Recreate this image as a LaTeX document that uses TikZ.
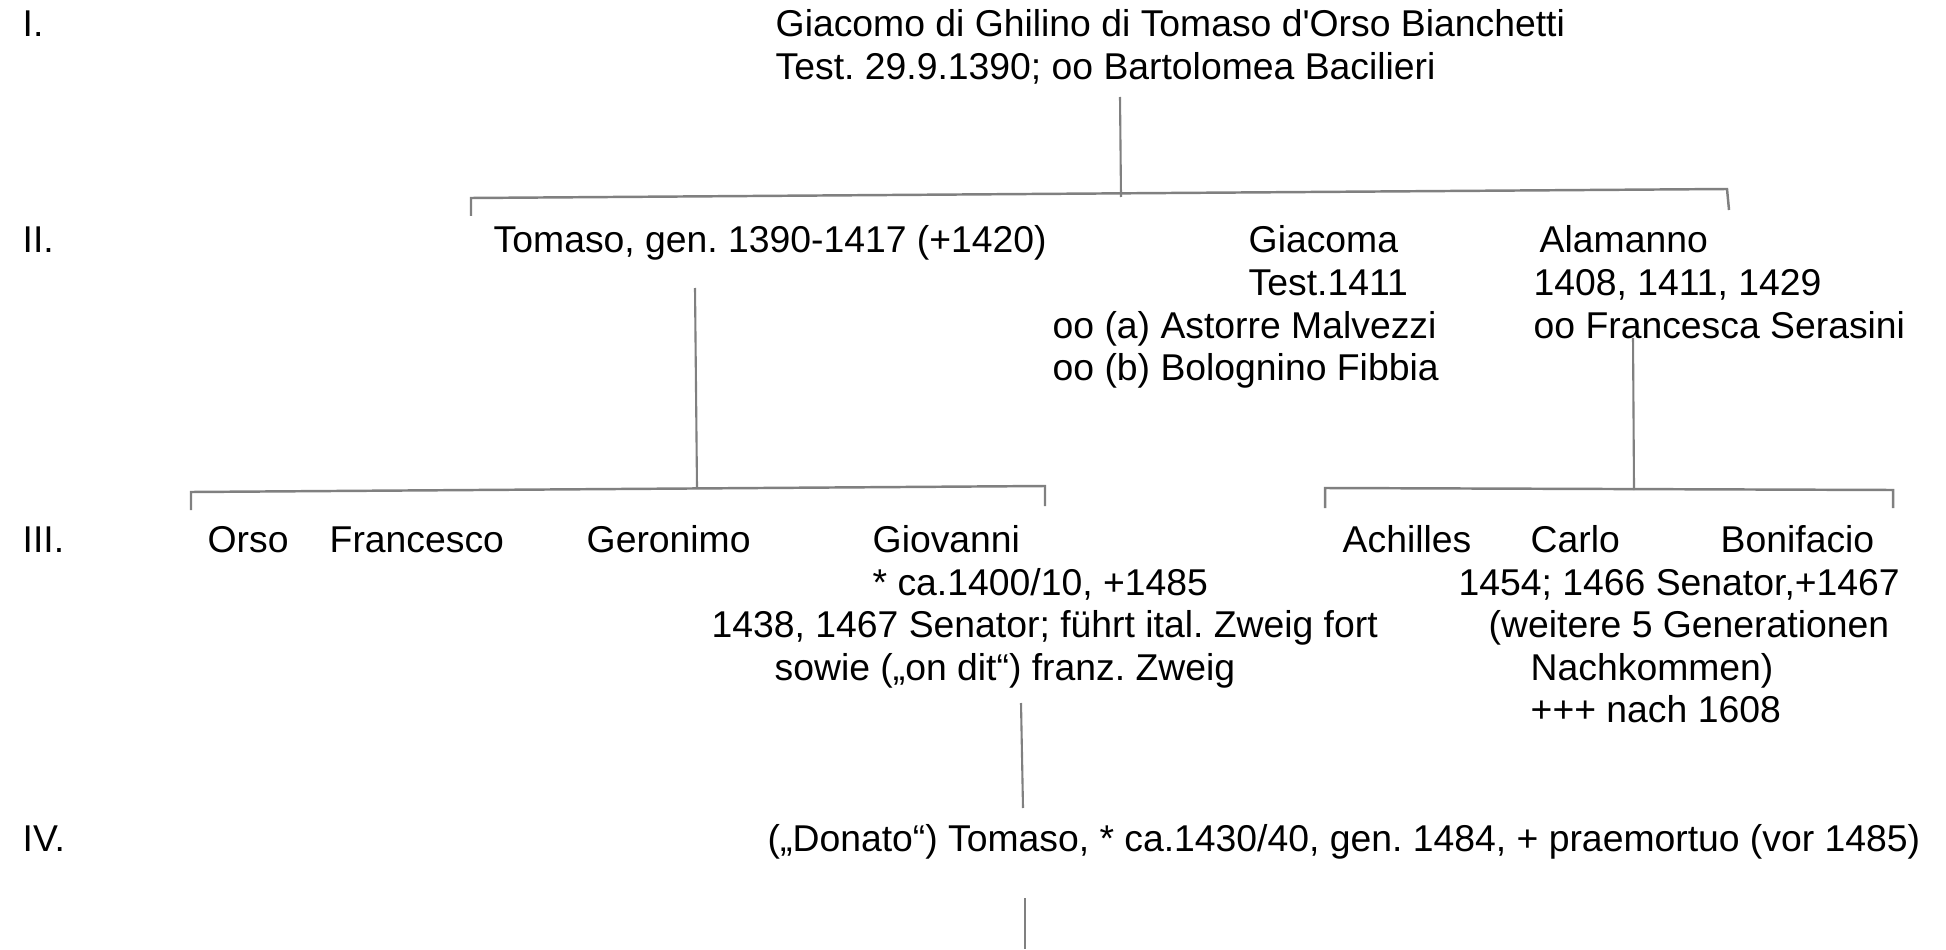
\documentclass[tikz,border=0pt]{standalone}
\usepackage{fontspec}
\usepackage{tikz}
\usetikzlibrary{positioning}
\newfontfamily\treefont{Liberation Sans}
\definecolor{stemline}{RGB}{128,128,128}
\frenchspacing

\begin{document}
\begin{tikzpicture}[
    every node/.style={font=\treefont\fontsize{10.62}{12}\selectfont, anchor=base west, inner sep=0pt},
    stem/.style={stemline, line width=0.6pt},
    bracket/.style={stemline, line width=0.7pt, line join=miter},
]
\useasboundingbox (0,0) rectangle (19.46,9.49);

% Generation labels
\node (genI)   at (0.22, 9.12) {I.};
\node (genII)  at (0.22, 6.97) {II.};
\node (genIII) at (0.22, 3.97) {III.};
\node (genIV)  at (0.22, 0.98) {IV.};

% Generation I
\node (giacomo)  at (7.75, 9.12) {Giacomo di Ghilino di Tomaso d'Orso Bianchetti};
\node (giacomoB) at (7.75, 8.69) {Test. 29.9.1390; oo Bartolomea Bacilieri};

% Generation II
\node (tomaso)    at (4.93, 6.97) {Tomaso, gen. 1390-1417 (+1420)};
\node (giacoma)   at (12.48, 6.97) {Giacoma};
\node (giacomaB)  at (12.48, 6.54) {Test.1411};
\node (giacomaC)  at (10.52, 6.11) {oo (a) Astorre Malvezzi};
\node (giacomaD)  at (10.52, 5.69) {oo (b) Bolognino Fibbia};
\node (alamanno)  at (15.39, 6.97) {Alamanno};
\node (alamannoB) at (15.33, 6.54) {1408, 1411, 1429};
\node (alamannoC) at (15.33, 6.11) {oo Francesca Serasini};

% Generation III
\node (orso)      at (2.07, 3.97) {Orso};
\node (francesco) at (3.29, 3.97) {Francesco};
\node (geronimo)  at (5.86, 3.97) {Geronimo};
\node (giovanni)  at (8.72, 3.97) {Giovanni};
\node (giovanniB) at (8.72, 3.54) {* ca.1400/10, +1485};
\node (giovanniC) at (7.11, 3.12) {1438, 1467 Senator; führt ital. Zweig fort};
\node (giovanniD) at (7.74, 2.69) {sowie („on dit“) franz. Zweig};
\node (achilles)  at (13.42, 3.97) {Achilles};
\node (carlo)     at (15.30, 3.97) {Carlo};
\node (bonifacio) at (17.20, 3.97) {Bonifacio};
\node (carloB)    at (14.58, 3.54) {1454; 1466 Senator,+1467};
\node (carloC)    at (14.88, 3.12) {(weitere 5 Generationen};
\node (carloD)    at (15.30, 2.69) {Nachkommen)};
\node (carloE)    at (15.30, 2.27) {+++ nach 1608};

% Generation IV
\node (donato) at (7.67, 0.98) {(„Donato“) Tomaso, * ca.1430/40, gen. 1484, + praemortuo (vor 1485)};

% Line end points
\coordinate (giacomoTop) at (11.20, 8.52);
\coordinate (giacomoBot) at (11.21, 7.52);
\coordinate (brIa) at (4.71, 7.33);
\coordinate (brIb) at (4.71, 7.51);
\coordinate (brIc) at (17.27, 7.60);
\coordinate (brId) at (17.29, 7.39);

\coordinate (tomasoTop) at (6.95, 6.61);
\coordinate (tomasoBot) at (6.97, 4.61);
\coordinate (brLa) at (1.91, 4.39);
\coordinate (brLb) at (1.91, 4.57);
\coordinate (brLc) at (10.45, 4.63);
\coordinate (brLd) at (10.45, 4.43);

\coordinate (alamannoTop) at (16.33, 6.11);
\coordinate (alamannoBot) at (16.34, 4.59);
\coordinate (brRa) at (13.25, 4.41);
\coordinate (brRb) at (13.25, 4.61);
\coordinate (brRc) at (18.93, 4.59);
\coordinate (brRd) at (18.93, 4.41);

\coordinate (giovanniTop) at (10.21, 2.46);
\coordinate (giovanniBot) at (10.23, 1.41);
\coordinate (donatoTop) at (10.25, 0.51);
\coordinate (donatoBot) at (10.25, 0.00);

% Stems and brackets
\draw[stem] (giacomoTop) -- (giacomoBot);
\draw[bracket] (brIa) -- (brIb) -- (brIc) -- (brId);

\draw[stem] (tomasoTop) -- (tomasoBot);
\draw[bracket] (brLa) -- (brLb) -- (brLc) -- (brLd);

\draw[stem] (alamannoTop) -- (alamannoBot);
\draw[bracket] (brRa) -- (brRb) -- (brRc) -- (brRd);

\draw[stem] (giovanniTop) -- (giovanniBot);
\draw[stem] (donatoTop) -- (donatoBot);

\end{tikzpicture}
\end{document}
